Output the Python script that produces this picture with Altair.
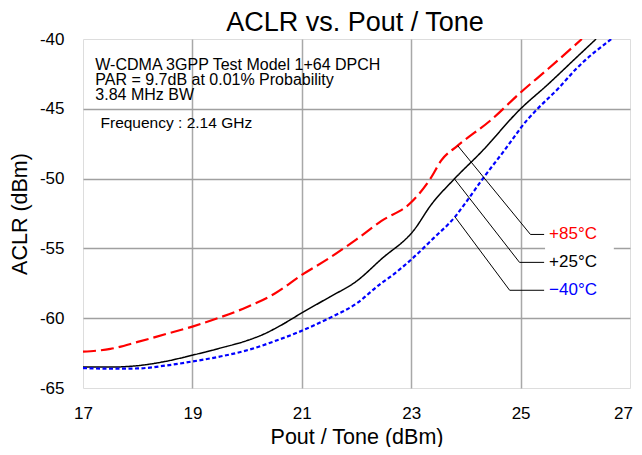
import altair as alt
import pandas as pd

# ---- data ----
x_hot = [17.0, 17.5, 18.0, 18.5, 19.0, 19.5, 20.0, 20.5, 21.0, 21.5, 22.0, 22.45, 23.0, 23.36, 23.55, 23.85, 24.46, 25.0, 25.5, 26.12]
y_hot = [-62.4, -62.2, -61.7, -61.15, -60.6, -59.95, -59.2, -58.25, -56.9, -55.7, -54.35, -53.05, -51.7, -49.95, -48.7, -47.64, -45.8, -43.83, -42.15, -40.0]

x_room = [17.0, 17.5, 18.0, 18.5, 19.0, 19.5, 20.0, 20.3, 20.6, 21.0, 21.5, 22.0, 22.45, 23.06, 23.36, 23.79, 24.28, 25.0, 25.5, 26.0, 26.38]
y_room = [-63.5, -63.5, -63.4, -63.1, -62.65, -62.15, -61.6, -61.15, -60.55, -59.62, -58.5, -57.35, -55.78, -53.64, -51.9, -50.02, -48.1, -45.0, -43.25, -41.4, -40.0]

x_cold = [17.0, 17.5, 18.0, 18.5, 19.0, 19.5, 20.0, 20.5, 21.0, 21.5, 22.0, 22.45, 22.63, 23.0, 23.4, 23.8, 24.0, 24.31, 24.7, 25.12, 25.31, 25.7, 26.0, 26.66]
y_cold = [-63.57, -63.62, -63.6, -63.4, -63.1, -62.75, -62.3, -61.65, -60.9, -60.0, -58.95, -57.5, -57.0, -55.8, -54.3, -52.74, -51.7, -50.0, -48.0, -45.8, -45.0, -43.5, -42.2, -40.0]

series_names = ["+85°C", "+25°C", "−40°C"]
series_colors = ["#ff0000", "#000000", "#0000ff"]

# leader lines (start on curve, corner, end) and label positions
leader_x = [[23.85, 25.18, 25.43], [23.79, 24.98, 25.43], [23.8, 24.8, 25.43]]
leader_y = [[-47.64, -54.0, -54.0], [-50.02, -56.0, -56.0], [-52.74, -58.0, -58.0]]
label_x = 25.52

info_text = "W-CDMA 3GPP Test Model 1+64 DPCH\nPAR = 9.7dB at 0.01% Probability\n3.84 MHz BW"
info_x, info_y = 17.225, -42.21
freq_text = "Frequency : 2.14 GHz"
freq_x, freq_y = 17.32, -46.38

title_text = "ACLR vs. Pout / Tone"

x_ticks = [17, 19, 21, 23, 25, 27]
y_ticks = [-65, -60, -55, -50, -45, -40]

FONT = "Liberation Sans"
W, H = 547, 349

x_scale = alt.Scale(domain=[17, 27], nice=False, zero=False)
y_scale = alt.Scale(domain=[-65, -40], nice=False, zero=False)

x_axis = alt.Axis(
    values=x_ticks, title="Pout / Tone (dBm)", grid=True, ticks=False, tickSize=0, domain=False,
    labelFont=FONT, labelFontSize=17, labelColor="#000000", labelPadding=30, labelBaseline="alphabetic",
    labelFlush=False,
    labelOffset={"condition": {"test": "datum.value == 27", "value": -7}, "value": 0},
    titleFont=FONT, titleFontSize=21.5, titleFontWeight="normal", titleColor="#000000",
    titleBaseline="alphabetic", titleY=55, gridColor="#a8a8a8", gridWidth=1.5,
    gridOpacity={"condition": {"test": "datum.value == 17 || datum.value == 27", "value": 0}, "value": 1},
)
y_axis = alt.Axis(
    values=y_ticks, title="ACLR (dBm)", grid=True, ticks=False, tickSize=0, domain=False,
    labelFont=FONT, labelFontSize=17, labelColor="#000000", labelPadding=19, labelFlush=False,
    labelExpr="'' + datum.value",
    titleFont=FONT, titleFontSize=21.5, titleFontWeight="normal", titleColor="#000000",
    titleX=-52, titleY=H / 2, gridColor="#a0a0a0", gridWidth=1.5,
    gridOpacity={"condition": {"test": "datum.value == -65 || datum.value == -40", "value": 0}, "value": 1},
)


def xenc(field="x"):
    return alt.X(f"{field}:Q", scale=x_scale, axis=x_axis)


def yenc(field="y"):
    return alt.Y(f"{field}:Q", scale=y_scale, axis=y_axis)


curves = [
    (x_hot, y_hot, series_colors[0], [13, 5], 2.2),
    (x_room, y_room, series_colors[1], [1, 0], 1.5),
    (x_cold, y_cold, series_colors[2], [4, 2.5], 2.2),
]

layers = []
for xs, ys, col, dash, w in curves:
    df = pd.DataFrame({"x": xs, "y": ys, "o": range(len(xs))})
    layers.append(
        alt.Chart(df).mark_line(color=col, strokeDash=dash, strokeWidth=w, interpolate="monotone", clip=True)
        .encode(x=xenc(), y=yenc(), order="o:Q")
    )

# leader lines
rows = []
for i, name in enumerate(series_names):
    for j in range(3):
        rows.append({"x": leader_x[i][j], "y": leader_y[i][j], "g": name, "o": j})
leader_df = pd.DataFrame(rows)
layers.append(
    alt.Chart(leader_df).mark_line(color="#000000", strokeWidth=1)
    .encode(x=xenc(), y=yenc(), detail="g:N", order="o:Q")
)

# white boxes behind labels
box_df = pd.DataFrame({
    "x": [label_x - 0.07] * 3, "x2": [label_x + 1.18] * 3,
    "y": [leader_y[i][2] + 1.1 for i in range(3)], "y2": [leader_y[i][2] - 1.1 for i in range(3)],
})
layers.append(
    alt.Chart(box_df).mark_rect(color="white")
    .encode(x=xenc(), x2="x2:Q", y=yenc(), y2="y2:Q")
)

label_df = pd.DataFrame({
    "x": [label_x] * 3, "y": [leader_y[i][2] for i in range(3)],
    "t": series_names, "c": series_colors,
})
layers.append(
    alt.Chart(label_df).mark_text(align="left", baseline="middle", font=FONT, fontSize=17)
    .encode(x=xenc(), y=yenc(), text="t:N", color=alt.Color("c:N", scale=None))
)

info_df = pd.DataFrame({"x": [info_x], "y": [info_y], "t": [info_text]})
layers.append(
    alt.Chart(info_df).mark_text(align="left", baseline="alphabetic", font=FONT, fontSize=16,
                                 lineBreak="\n", lineHeight=15, color="#000000")
    .encode(x=xenc(), y=yenc(), text="t:N")
)

freq_df = pd.DataFrame({"x": [freq_x], "y": [freq_y], "t": [freq_text]})
layers.append(
    alt.Chart(freq_df).mark_text(align="left", baseline="alphabetic", font=FONT, fontSize=15.5, color="#000000")
    .encode(x=xenc(), y=yenc(), text="t:N")
)

title_df = pd.DataFrame({"t": [title_text]})
layers.append(
    alt.Chart(title_df).mark_text(align="center", baseline="alphabetic", font=FONT, fontSize=27,
                                  color="#000000", clip=False)
    .encode(x=alt.value(272), y=alt.value(-8), text="t:N")
)

chart = alt.layer(*layers).properties(
    width=W, height=H,
    autosize=alt.AutoSizeParams(type="none"),
    padding={"left": 75, "top": 31, "right": 4, "bottom": 59},
).configure_view(stroke="#000000", strokeWidth=2).configure(background="white")

chart.save("out.html", embed_options={"renderer": "svg", "actions": False})
